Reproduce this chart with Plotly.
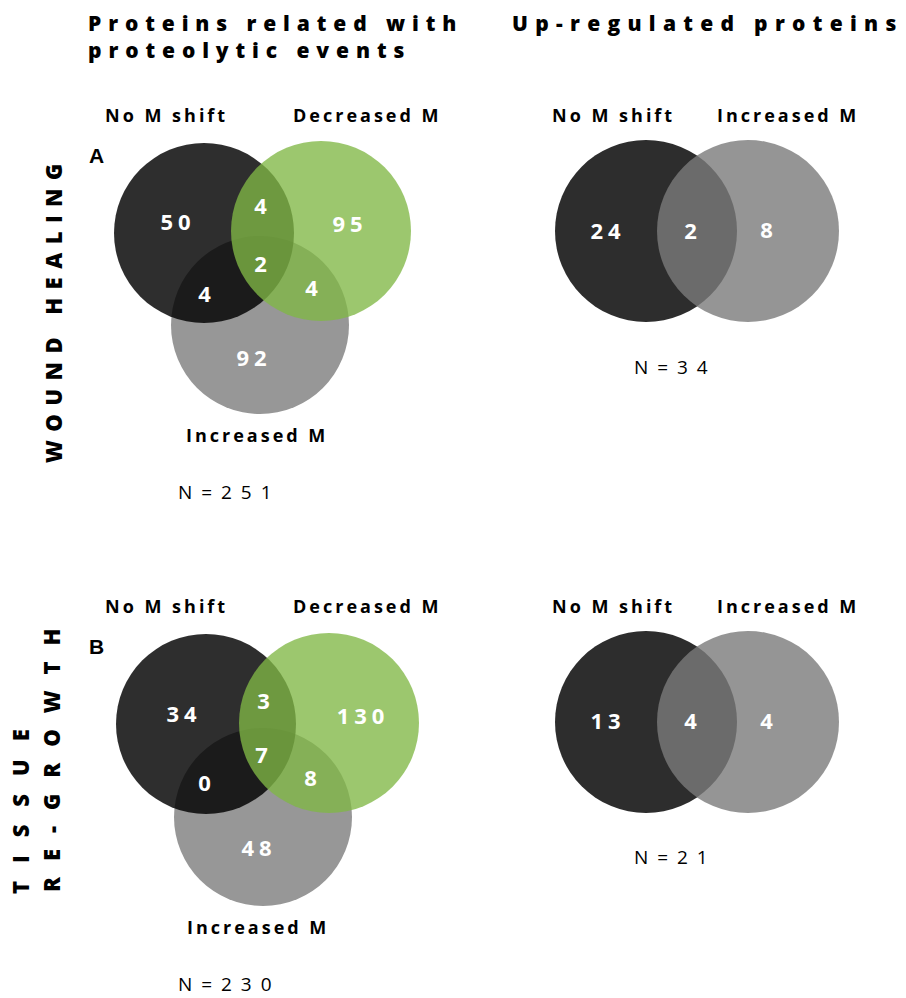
import plotly.graph_objects as go

W, H = 906, 998

# ---- data ----
panel_titles = ["Proteins related with", "proteolytic events", "Up-regulated proteins"]
row_labels = ["WOUND HEALING", "TISSUE", "RE-GROWTH"]
panel_letters = ["A", "B"]
set_names_3 = ["No M shift", "Decreased M", "Increased M"]
set_names_2 = ["No M shift", "Increased M"]

# region counts for 3-set venns: [No only, No&Dec, Dec only, all three, No&Inc, Dec&Inc, Inc only]
wound_3 = [50, 4, 95, 2, 4, 4, 92]
regrowth_3 = [34, 3, 130, 7, 0, 8, 48]
# 2-set venns: [No only, both, Inc only]
wound_2 = [24, 2, 8]
regrowth_2 = [13, 4, 4]
totals = ["N = 2 5 1", "N = 3 4", "N = 2 3 0", "N = 2 1"]

# ---- layout geometry (pixels) ----
FONT = "Open Sans"
GREY = "#979797"
BLACK_A = "rgba(0,0,0,0.82)"
GREEN_A = "rgba(128,183,69,0.78)"
BLACK2 = "#2d2d2d"
GREY2_A = "rgba(123,123,123,0.80)"

def circ(cx, cy, r, color):
    return dict(type="circle", xref="x", yref="y", x0=cx - r, x1=cx + r,
                y0=cy - r, y1=cy + r, fillcolor=color, line=dict(width=0),
                layer="below")

shapes = []
three_centres = [
    [(260, 325), (204, 233), (321, 231)],
    [(263, 817), (206, 724), (329, 723)],
]
for (g, b, gr) in three_centres:
    shapes.append(circ(g[0], g[1], 89, GREY))
    shapes.append(circ(b[0], b[1], 90, BLACK_A))
    shapes.append(circ(gr[0], gr[1], 90, GREEN_A))
two_centres = [[(646, 231), (748, 231)], [(646, 722), (748, 722)]]
for (b, g) in two_centres:
    shapes.append(circ(b[0], b[1], 91, BLACK2))
    shapes.append(circ(g[0], g[1], 91, GREY2_A))

pos3 = [
    [(178, 224), (263, 208), (350, 226), (263, 266), (207, 296), (314, 290), (254, 360)],
    [(184, 716), (266, 703), (363, 718), (264, 757), (207, 785), (313, 780), (259, 850)],
]
pos2 = [
    [(608, 233), (693, 233), (769, 232)],
    [(608, 723), (693, 723), (769, 723)],
]

fig = go.Figure()
for vals, pos in [(wound_3, pos3[0]), (regrowth_3, pos3[1]), (wound_2, pos2[0]), (regrowth_2, pos2[1])]:
    fig.add_trace(go.Scatter(
        x=[p[0] for p in pos], y=[p[1] for p in pos], mode="text",
        text=[f'<span style="letter-spacing:5px">{v}</span>' for v in vals],
        textfont=dict(family=FONT, size=22, color="white", weight="bold"),
        textposition="middle center", hoverinfo="skip", showlegend=False))

ann = []
def A(text, x, y, size, spacing=0, weight="bold", xanchor="center", yanchor="middle", angle=0, family=FONT):
    t = f'<span style="letter-spacing:{spacing}px">{text}</span>' if spacing else text
    ann.append(dict(text=t, x=x, y=y, xref="x", yref="y", showarrow=False,
                    xanchor=xanchor, yanchor=yanchor, textangle=angle, align="left",
                    font=dict(family=family, size=size, color="black", weight=weight)))

# titles
A(panel_titles[0] + "<br>" + panel_titles[1], 86, 36, 21, 6.9, weight=800, xanchor="left")
A(panel_titles[2], 510, 23, 21, 7.3, weight=800, xanchor="left")

# set labels
for yy in (115, 606):
    A(set_names_3[0], 166, yy, 18, 3)
    A(set_names_3[1], 367, yy, 18, 3)
    A(set_names_2[0], 613, yy, 18, 3)
    A(set_names_2[1], 788, yy, 18, 3)
A(set_names_3[2], 257, 435, 18, 3)
A(set_names_3[2], 258, 927, 18, 3)

# totals
A(totals[0], 226, 492, 19, 2, weight="normal")
A(totals[1], 672, 367, 19, 2, weight="normal")
A(totals[2], 226, 984, 19, 2, weight="normal")
A(totals[3], 672, 857, 19, 2, weight="normal")

# panel letters
A(panel_letters[0], 96, 155, 21, family="Liberation Sans")
A(panel_letters[1], 96, 646, 21, family="Liberation Sans")

# row labels
A(row_labels[0], 53, 309, 22, 8.5, weight=800, angle=-90)
A(row_labels[1], 20, 803, 22, 18, weight=800, angle=-90)
A(row_labels[2], 51, 753, 22, 16, weight=800, angle=-90)

fig.update_layout(
    width=W, height=H, margin=dict(l=0, r=0, t=0, b=0),
    paper_bgcolor="white", plot_bgcolor="white",
    xaxis=dict(range=[0, W], visible=False, fixedrange=True),
    yaxis=dict(range=[H, 0], visible=False, fixedrange=True),
    shapes=shapes, annotations=ann, showlegend=False,
)
fig.write_html("out.html")
